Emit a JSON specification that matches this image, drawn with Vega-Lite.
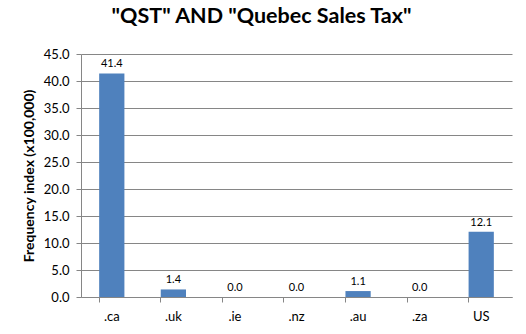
{
  "$schema": "https://vega.github.io/schema/vega-lite/v6.json",
  "width": 431,
  "height": 243,
  "autosize": {"type": "none"},
  "padding": {"left": 81, "top": 54, "right": 14, "bottom": 37},
  "background": "white",
  "title": {
    "text": "\"QST\" AND \"Quebec Sales Tax\"",
    "font": "Lato",
    "fontSize": 21.5,
    "fontWeight": "bold",
    "color": "#000000",
    "anchor": "middle",
    "dx": -35,
    "offset": 21
  },
  "config": {
    "view": {"stroke": null},
    "font": "Lato"
  },
  "data": {
    "values": [
      {"domain": ".ca", "value": 41.4},
      {"domain": ".uk", "value": 1.4},
      {"domain": ".ie", "value": 0.0},
      {"domain": ".nz", "value": 0.0},
      {"domain": ".au", "value": 1.1},
      {"domain": ".za", "value": 0.0},
      {"domain": "US", "value": 12.1}
    ]
  },
  "encoding": {
    "x": {
      "field": "domain",
      "type": "nominal",
      "sort": null,
      "scale": {"paddingInner": 0.59, "paddingOuter": 0.295},
      "axis": {
        "title": null,
        "labelAngle": 0,
        "labelFont": "Lato",
        "labelFontSize": 13,
        "labelColor": "#000000",
        "labelPadding": 8,
        "domainColor": "#868686",
        "tickColor": "#868686",
        "tickSize": 5,
        "bandPosition": 0,
        "grid": false
      }
    },
    "y": {
      "field": "value",
      "type": "quantitative",
      "scale": {"domain": [0, 45], "nice": false},
      "axis": {
        "title": "Frequency index (x100,000)",
        "titleFont": "Lato",
        "titleFontSize": 14,
        "titleFontWeight": "bold",
        "titleColor": "#000000",
        "titlePadding": 7,
        "values": [0, 5, 10, 15, 20, 25, 30, 35, 40, 45],
        "format": ".1f",
        "labelFont": "Lato",
        "labelFontSize": 13,
        "labelColor": "#000000",
        "labelPadding": 7,
        "tickSize": 5,
        "tickColor": "#868686",
        "domainColor": "#868686",
        "gridColor": "#868686",
        "grid": true
      }
    }
  },
  "layer": [
    {"mark": {"type": "bar", "color": "#4F81BD"}},
    {
      "mark": {"type": "text", "dy": -9, "fontSize": 11, "font": "Lato", "color": "#000000"},
      "encoding": {"text": {"field": "value", "type": "quantitative", "format": ".1f"}}
    }
  ]
}
